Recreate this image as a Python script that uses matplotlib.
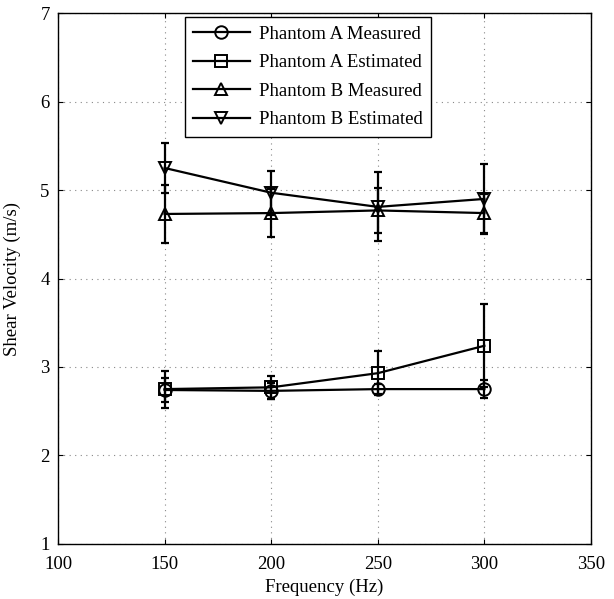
import matplotlib
matplotlib.use("Agg")
import matplotlib.pyplot as plt

plt.rcParams.update({
    "font.family": "Liberation Serif",
    "font.size": 13.5,
    "xtick.direction": "in", "ytick.direction": "in",
    "xtick.top": True, "ytick.right": True,
})

freq = [150, 200, 250, 300]

a_meas = [2.74, 2.73, 2.75, 2.75]
a_meas_err = [0.14, 0.09, 0.06, 0.10]
a_est = [2.75, 2.77, 2.93, 3.24]
a_est_err = [0.21, 0.13, 0.25, 0.47]
b_meas = [4.73, 4.74, 4.77, 4.74]
b_meas_err = [0.33, 0.27, 0.25, 0.22]
b_est = [5.25, 4.97, 4.81, 4.90]
b_est_err = [0.28, 0.25, 0.39, 0.40]

series = [
    (a_meas, a_meas_err, "o", "Phantom A Measured"),
    (a_est, a_est_err, "s", "Phantom A Estimated"),
    (b_meas, b_meas_err, "^", "Phantom B Measured"),
    (b_est, b_est_err, "v", "Phantom B Estimated"),
]

fig = plt.figure(figsize=(6.14, 5.99), dpi=100)
ax = fig.add_axes([0.0945, 0.092, 0.868, 0.886])

for vals, err, mk, lab in series:
    ax.errorbar(freq, vals, yerr=err, fmt="none", ecolor="black",
                elinewidth=1.6, capsize=3, capthick=1.6, zorder=2)
    ax.plot(freq, vals, color="black", lw=1.6, marker=mk, markersize=9,
            markerfacecolor="none", markeredgecolor="black", mew=1.4,
            label=lab, zorder=3)

ax.set_xlim(100, 350)
ax.set_ylim(1, 7)
ax.set_xticks([100, 150, 200, 250, 300, 350])
ax.set_yticks([1, 2, 3, 4, 5, 6, 7])
ax.tick_params(axis="x", pad=9)
ax.tick_params(axis="y", pad=6)
ax.grid(True, linestyle=(0, (1, 4)), color="#888888", linewidth=0.8)
for s in ax.spines.values():
    s.set_linewidth(1.0)
ax.set_xlabel("Frequency (Hz)", labelpad=4)
ax.set_ylabel("Shear Velocity (m/s)", labelpad=14)

leg = ax.legend(loc="upper left", bbox_to_anchor=(0.238, 0.992), borderaxespad=0,
                fancybox=False, edgecolor="black", framealpha=1, handlelength=3.0,
                numpoints=1, borderpad=0.45, labelspacing=0.6, handletextpad=0.5,
                fontsize=13.5)
leg.get_frame().set_linewidth(1.0)

fig.savefig("out.png", dpi=100)
